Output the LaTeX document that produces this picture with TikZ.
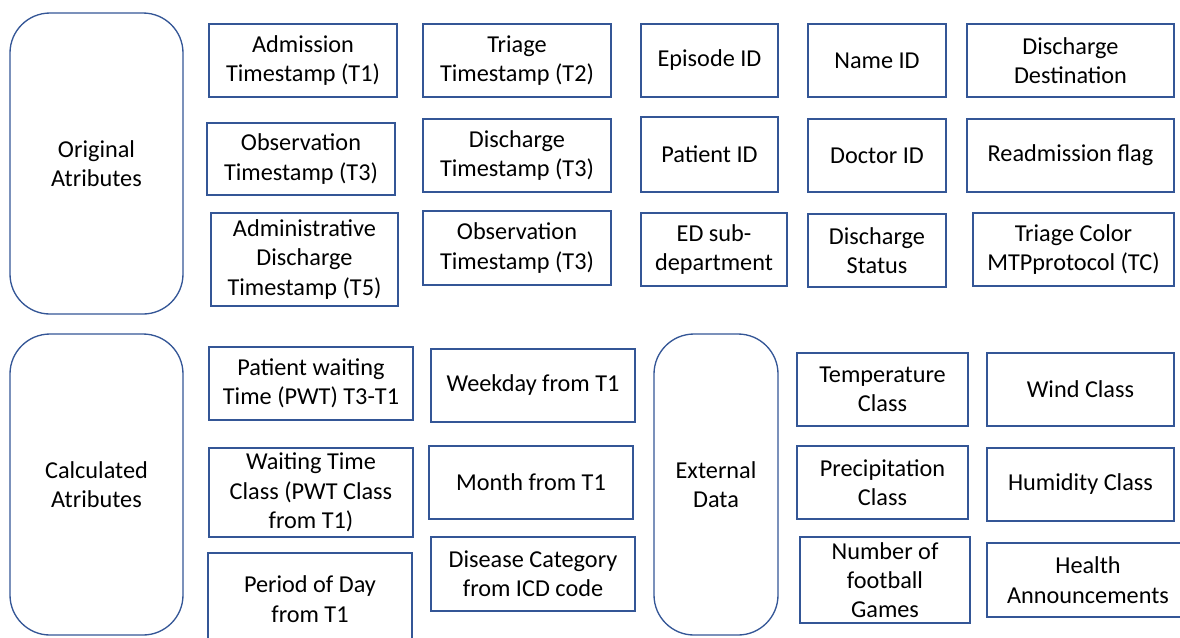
\documentclass[tikz,border=0pt]{standalone}
\usepackage{fontspec}
\setmainfont{Carlito}
\usepackage{xcolor}
\usepackage{tikz}
\usetikzlibrary{positioning,calc}
\definecolor{boxblue}{RGB}{52,86,150}
\tikzstyle{attrbox} = [rectangle,draw=boxblue,line width=1pt,align=center,inner sep=0pt]
\tikzstyle{groupbox} = [attrbox,rounded corners=30pt]

\begin{document}
\begin{tikzpicture}[x=0.75pt,y=-0.75pt,font=\fontsize{18.2}{22}\selectfont]
        \useasboundingbox (0,0) rectangle (1180,637);
        \clip (0,0) rectangle (1180,637);
        % original attributes
        \node[groupbox,minimum width=129.75pt,minimum height=225.75pt] (orig) at (96.5,163.5) {Original\\Atributes};
        \node[attrbox,minimum width=141pt,minimum height=54.75pt] (adm) at (303,60.5) {Admission\\Timestamp (T1)};
        \node[attrbox,minimum width=141pt,minimum height=54pt] (obsa) at (301,159) {Observation\\Timestamp (T3)};
        \node[attrbox,minimum width=140.25pt,minimum height=69.75pt] (adis) at (304.5,259.5) {Administrative\\Discharge\\Timestamp (T5)};
        \node[attrbox,minimum width=141pt,minimum height=54.75pt] (tri) at (517,60.5) {Triage\\Timestamp (T2)};
        \node[attrbox,minimum width=141pt,minimum height=54.75pt] (dts) at (517,155.5) {Discharge\\Timestamp (T3)};
        \node[attrbox,minimum width=141pt,minimum height=55.5pt] (obsb) at (517,248) {Observation\\Timestamp (T3)};
        \node[attrbox,minimum width=102.75pt,minimum height=54.75pt] (epi) at (709.5,60.5) {Episode ID};
        \node[attrbox,minimum width=102.75pt,minimum height=56.25pt] (pid) at (709.5,154.5) {Patient ID};
        \node[attrbox,minimum width=109.5pt,minimum height=54.75pt] (edsub) at (714,249.5) {ED sub-\\department};
        \node[attrbox,minimum width=103.5pt,minimum height=54.75pt] (nam) at (877,60.5) {Name ID};
        \node[attrbox,minimum width=103.5pt,minimum height=54.75pt] (did) at (877,155.5) {Doctor ID};
        \node[attrbox,minimum width=103.5pt,minimum height=54.75pt] (dstat) at (877,250.5) {Discharge\\Status};
        \node[attrbox,minimum width=155.25pt,minimum height=54.75pt] (ddest) at (1070.5,60.5) {Discharge\\Destination};
        \node[attrbox,minimum width=155.25pt,minimum height=54.75pt] (readm) at (1070.5,155.5) {Readmission flag};
        \node[attrbox,minimum width=150.75pt,minimum height=54.75pt] (tcol) at (1073.5,249.5) {Triage Color\\MTPprotocol (TC)};
        % calculated attributes
        \node[groupbox,minimum width=129.75pt,minimum height=225.75pt] (calc) at (96.5,484.5) {Calculated\\Atributes};
        \node[attrbox,minimum width=153pt,minimum height=54.75pt] (pwt) at (311,383.5) {Patient waiting\\Time (PWT) T3-T1};
        \node[attrbox,minimum width=153pt,minimum height=66.75pt] (wtc) at (311,492.5) {Waiting Time\\Class (PWT Class\\from T1)};
        \node[attrbox,minimum width=153pt,minimum height=69pt] (pod) at (310,599) {Period of Day\\from T1};
        \node[attrbox,minimum width=153pt,minimum height=54.75pt] (wday) at (533,385.5) {Weekday from T1};
        \node[attrbox,minimum width=153pt,minimum height=54.75pt] (mon) at (531,482.5) {Month from T1};
        \node[attrbox,minimum width=153pt,minimum height=55.5pt] (dcat) at (533,574) {Disease Category\\from ICD code};
        % external data
        \node[groupbox,minimum width=93pt,minimum height=225.75pt] (ext) at (716,484.5) {External\\Data};
        \node[attrbox,minimum width=128.25pt,minimum height=54.75pt] (temp) at (882.5,389.5) {Temperature\\Class};
        \node[attrbox,minimum width=128.25pt,minimum height=54.75pt] (prec) at (882.5,482.5) {Precipitation\\Class};
        \node[attrbox,minimum width=127.5pt,minimum height=64.5pt] (foot) at (885,580) {Number of\\football\\Games};
        \node[attrbox,minimum width=140.25pt,minimum height=54.75pt] (wind) at (1080.5,389.5) {Wind Class};
        \node[attrbox,minimum width=140.25pt,minimum height=54.75pt] (hum) at (1080.5,484.5) {Humidity Class};
        \node[attrbox,minimum width=151.5pt,minimum height=55.5pt] (hann) at (1088,580) {Health\\Announcements};
\end{tikzpicture}
\end{document}
